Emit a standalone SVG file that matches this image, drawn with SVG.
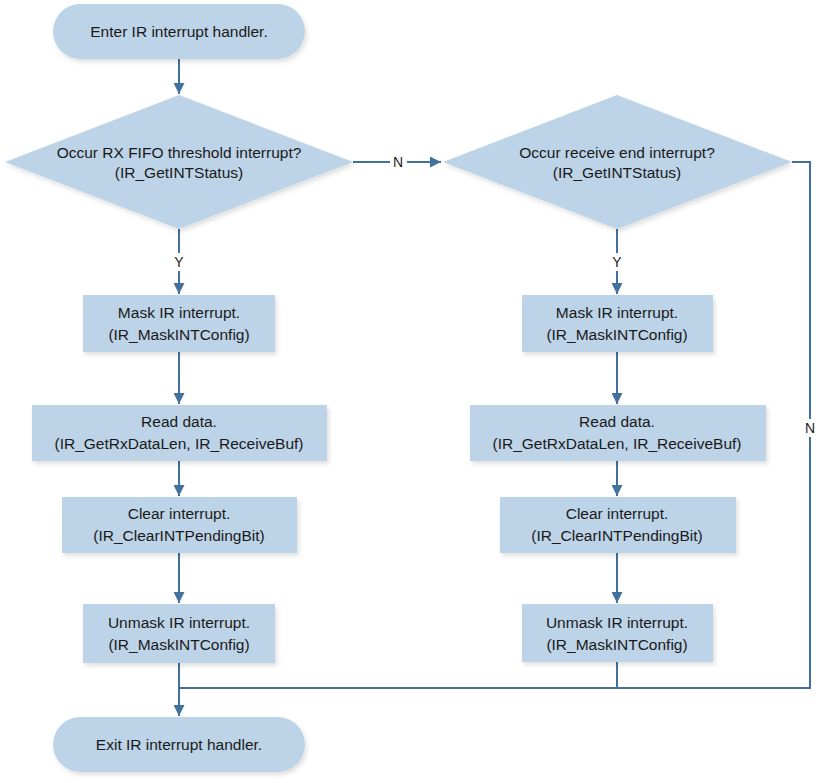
<svg xmlns="http://www.w3.org/2000/svg" width="826" height="783" viewBox="0 0 826 783">
<style>
.n{fill:#BDD3E7;filter:url(#sh)}
.t{font-family:"Liberation Sans",Arial,sans-serif;font-size:15.5px;fill:#1a1a1a;text-anchor:middle}
.c{fill:none;stroke:#41719C;stroke-width:2}
.l{font-family:"Liberation Sans",Arial,sans-serif;font-size:14px;fill:#1a1a1a;text-anchor:middle}
</style>
<defs>
<filter id="sh" x="-10%" y="-10%" width="130%" height="140%">
<feDropShadow dx="2" dy="3" stdDeviation="2" flood-color="#000" flood-opacity="0.12"/>
</filter>
<marker id="ah" viewBox="0 0 10 10" refX="10" refY="5" markerWidth="5.5" markerHeight="5.5" orient="auto" markerUnits="strokeWidth">
<path d="M0,0 L10,5 L0,10 z" fill="#41719C"/>
</marker>
</defs>
<rect width="826" height="783" fill="#fff"/>
<g id="connectors">
<path class="c" d="M179,59 V94" marker-end="url(#ah)"/>
<path class="c" d="M353,162 H441" marker-end="url(#ah)"/>
<path class="c" d="M179,229 V294" marker-end="url(#ah)"/>
<path class="c" d="M179,352 V404" marker-end="url(#ah)"/>
<path class="c" d="M179,461 V496" marker-end="url(#ah)"/>
<path class="c" d="M179,553 V603" marker-end="url(#ah)"/>
<path class="c" d="M179,663 V716" marker-end="url(#ah)"/>
<path class="c" d="M617,229 V294" marker-end="url(#ah)"/>
<path class="c" d="M617,352 V404" marker-end="url(#ah)"/>
<path class="c" d="M617,461 V496" marker-end="url(#ah)"/>
<path class="c" d="M617,553 V603" marker-end="url(#ah)"/>
<path class="c" d="M617,662 V688 H179"/>
<path class="c" d="M792,162 H810 V688 H617"/>
<rect x="390" y="153" width="17" height="18" fill="#fff"/>
<text class="l" x="398" y="167">N</text>
<rect x="172" y="253" width="14" height="18" fill="#fff"/>
<text class="l" x="179" y="267">Y</text>
<rect x="610" y="253" width="14" height="18" fill="#fff"/>
<text class="l" x="617" y="267">Y</text>
<rect x="803" y="419" width="15" height="18" fill="#fff"/>
<text class="l" x="810" y="433">N</text>
</g>
<g id="start">
<rect class="n" x="53" y="4" width="252" height="55" rx="27.5"/>
<text class="t" x="179" y="37">Enter IR interrupt handler.</text>
</g>
<g id="dec1">
<polygon class="n" points="179,95 353,162 179,229 5,162"/>
<text class="t" x="179" y="158">Occur RX FIFO threshold interrupt?</text>
<text class="t" x="179" y="178">(IR_GetINTStatus)</text>
</g>
<g id="dec2">
<polygon class="n" points="617,95 792,162 617,229 443,162"/>
<text class="t" x="617" y="158">Occur receive end interrupt?</text>
<text class="t" x="617" y="178">(IR_GetINTStatus)</text>
</g>
<g id="mask1">
<rect class="n" x="83" y="295" width="192" height="57"/>
<text class="t" x="179" y="318">Mask IR interrupt.</text>
<text class="t" x="179" y="340">(IR_MaskINTConfig)</text>
</g>
<g id="read1">
<rect class="n" x="32" y="405" width="295" height="56"/>
<text class="t" x="179" y="427">Read data.</text>
<text class="t" x="179" y="449">(IR_GetRxDataLen, IR_ReceiveBuf)</text>
</g>
<g id="clear1">
<rect class="n" x="62" y="497" width="235" height="56"/>
<text class="t" x="179" y="519">Clear interrupt.</text>
<text class="t" x="179" y="541">(IR_ClearINTPendingBit)</text>
</g>
<g id="unmask1">
<rect class="n" x="83" y="604" width="192" height="59"/>
<text class="t" x="179" y="628">Unmask IR interrupt.</text>
<text class="t" x="179" y="650">(IR_MaskINTConfig)</text>
</g>
<g id="mask2">
<rect class="n" x="522" y="295" width="191" height="57"/>
<text class="t" x="617" y="318">Mask IR interrupt.</text>
<text class="t" x="617" y="340">(IR_MaskINTConfig)</text>
</g>
<g id="read2">
<rect class="n" x="470" y="405" width="296" height="56"/>
<text class="t" x="617" y="427">Read data.</text>
<text class="t" x="617" y="449">(IR_GetRxDataLen, IR_ReceiveBuf)</text>
</g>
<g id="clear2">
<rect class="n" x="500" y="497" width="236" height="56"/>
<text class="t" x="617" y="519">Clear interrupt.</text>
<text class="t" x="617" y="541">(IR_ClearINTPendingBit)</text>
</g>
<g id="unmask2">
<rect class="n" x="522" y="604" width="191" height="58"/>
<text class="t" x="617" y="628">Unmask IR interrupt.</text>
<text class="t" x="617" y="650">(IR_MaskINTConfig)</text>
</g>
<g id="end">
<rect class="n" x="53" y="717" width="252" height="55" rx="27.5"/>
<text class="t" x="179" y="750">Exit IR interrupt handler.</text>
</g>
</svg>
